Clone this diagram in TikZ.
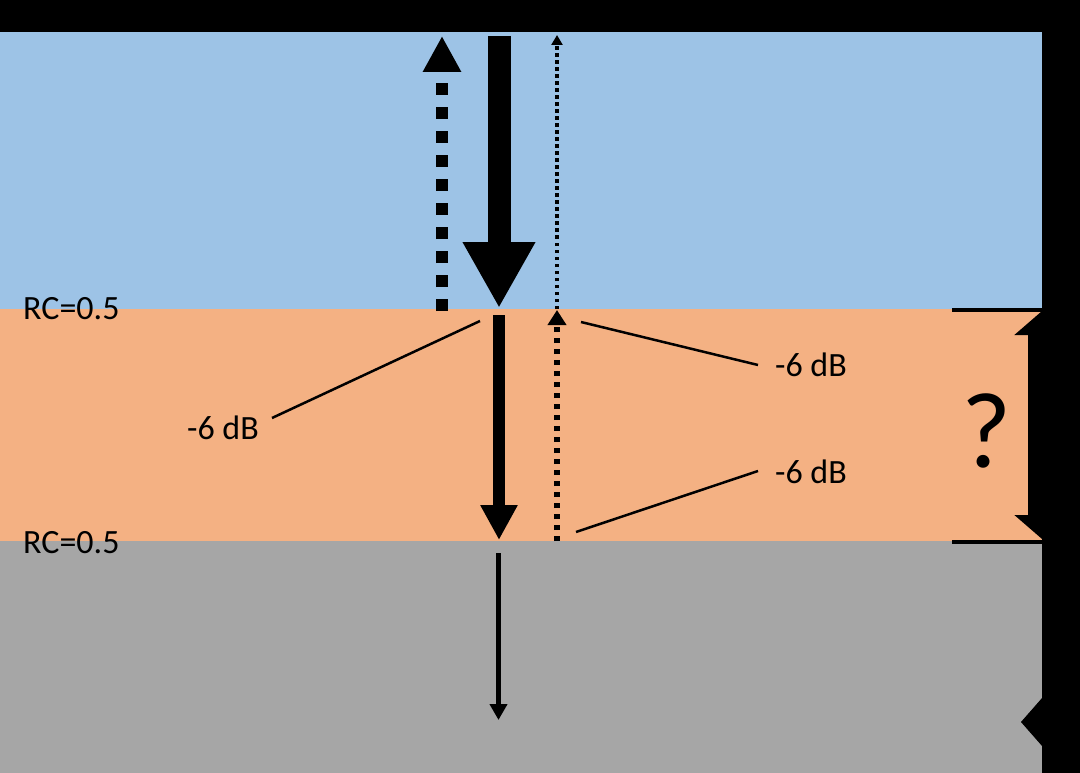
\documentclass[tikz,border=0pt]{standalone}
\usepackage{fontspec}
\setmainfont{Carlito}
\usetikzlibrary{arrows.meta}
\definecolor{skyblue}{RGB}{157,195,230}
\definecolor{peach}{RGB}{244,177,131}
\definecolor{midgray}{RGB}{166,166,166}
\begin{document}
\begin{tikzpicture}[x=1pt,y=-1pt,
  lbl/.style={font=\fontsize{34}{34}\selectfont, inner sep=0pt, anchor=base},
  lead/.style={line width=2.5pt, black}]
\useasboundingbox (0,0) rectangle (1080,773);
% background and layers
\fill[black] (0,0) rectangle (1080,773);
\fill[skyblue] (0,32) rectangle (1042,309);
\fill[peach] (0,309) rectangle (1042,541);
\fill[midgray] (0,541) rectangle (1042,773);

% coordinates
\coordinate (dashS) at (442,311);
\coordinate (dashE) at (442,36);
\coordinate (incS) at (499,36);
\coordinate (incE) at (499,308);
\coordinate (dotS) at (557,309);
\coordinate (dotE) at (557,35);
\coordinate (midS) at (499,315);
\coordinate (midE) at (499,540);
\coordinate (mdotS) at (557,541);
\coordinate (mdotE) at (557,310);
\coordinate (lowS) at (498.5,553);
\coordinate (lowE) at (498.5,720);

% arrows
\draw[line width=12pt, dash pattern=on 12pt off 12pt, -{Triangle[length=36pt,width=36pt]}] (dashS) -- (dashE);
\draw[line width=23pt, -{Triangle[length=66pt,width=68pt]}] (incS) -- (incE);
\draw[line width=3.5pt, dash pattern=on 3.5pt off 3.5pt, -{Triangle[length=10pt,width=11pt]}] (dotS) -- (dotE);
\draw[line width=12pt, -{Triangle[length=35pt,width=35pt]}] (midS) -- (midE);
\draw[line width=6pt, dash pattern=on 5pt off 6pt, -{Triangle[length=15pt,width=18pt]}] (mdotS) -- (mdotE);
\draw[line width=5.5pt, -{Triangle[length=16pt,width=17pt]}] (lowS) -- (lowE);

% labels
\node[lbl, anchor=base west] (rc1) at (23,319) {RC=0.5};
\node[lbl, anchor=base west] (rc2) at (23,553) {RC=0.5};
\node[lbl] (dbL) at (223,439) {-6 dB};
\node[lbl] (dbT) at (811,376) {-6 dB};
\node[lbl] (dbB) at (811,483) {-6 dB};
\node[font=\fontsize{108}{108}\selectfont, inner sep=0pt, anchor=base] (q) at (987,467) {?};

% leader lines
\coordinate (lA) at (480,321);
\coordinate (lB) at (581,322);
\coordinate (lC) at (576,532);
\draw[lead] (lA) -- (272,418) coordinate (lAe);
\draw[lead] (lB) -- (758,365) coordinate (lBe);
\draw[lead] (lC) -- (758,471) coordinate (lCe);

% bracket
\coordinate (bT1) at (952,310);
\coordinate (bT2) at (1042,310);
\coordinate (bB1) at (952,542);
\coordinate (bB2) at (1042,542);
\draw[line width=4pt] (bT1) -- (bT2);
\draw[line width=4pt] (bB1) -- (bB2);
\coordinate (dblT) at (1042,311);
\coordinate (dblB) at (1042,539);
\draw[line width=28pt, {Triangle[length=24pt,width=54pt]}-{Triangle[length=24pt,width=54pt]}] (dblT) -- (dblB);

% bottom-right notch
\coordinate (nS) at (1080,722);
\coordinate (nE) at (1021,722);
\draw[line width=1pt, -{Triangle[length=22pt,width=50pt]}] (nS) -- (nE);
\end{tikzpicture}
\end{document}
